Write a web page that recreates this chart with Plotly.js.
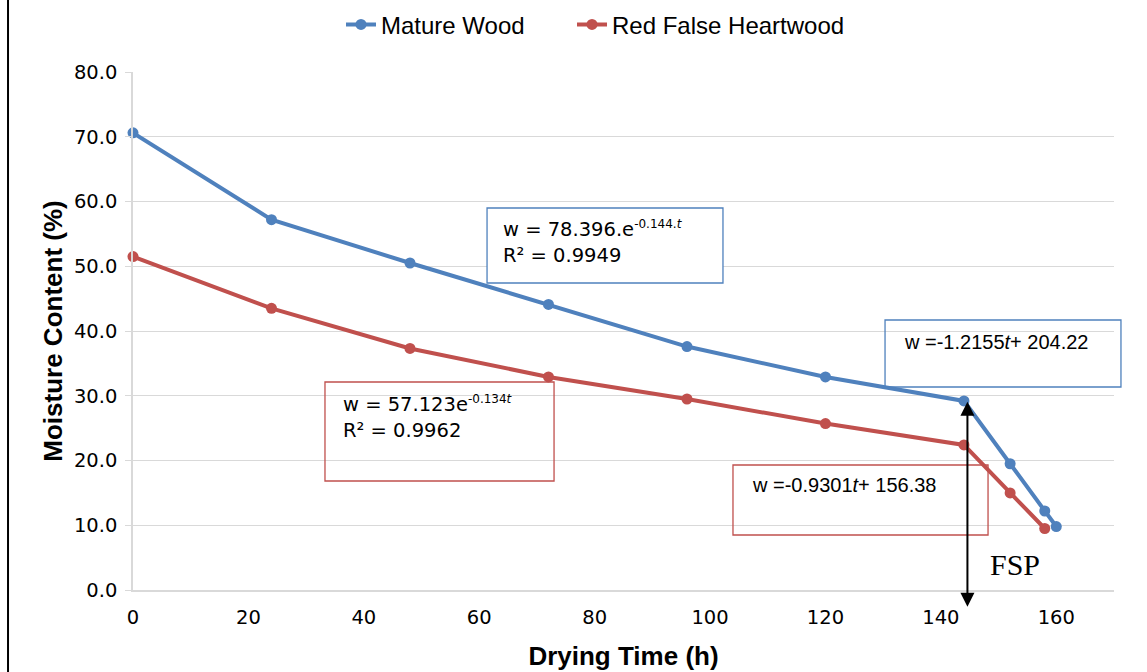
<!DOCTYPE html>
<html>
<head>
<meta charset="utf-8">
<script src="https://cdn.plot.ly/plotly-3.0.1.min.js"></script>
<style>html,body{margin:0;padding:0;background:#fff;}#chart{width:1147px;height:672px;}</style>
</head>
<body>
<div id="chart"></div>
<script>
// Data
var dryingTimeMature = [0, 24, 48, 72, 96, 120, 144, 152, 158, 160];
var moistureMature   = [70.6, 57.2, 50.5, 44.1, 37.6, 32.9, 29.2, 19.5, 12.2, 9.8];
var dryingTimeRed    = [0, 24, 48, 72, 96, 120, 144, 152, 158];
var moistureRed      = [51.5, 43.5, 37.3, 32.9, 29.5, 25.7, 22.4, 15.0, 9.5];
var seriesNames = ["Mature Wood", "Red False Heartwood"];
var eqMature1 = "w = 78.396.e<sup><span style=\"font-size:12px\">-0.144.<i>t</i></span></sup><br>R² = 0.9949";
var eqRed1    = "w = 57.123e<sup><span style=\"font-size:12px\">-0.134<i>t</i></span></sup><br>R² = 0.9962";
var eqMature2 = "w =-1.2155<i>t</i>+ 204.22";
var eqRed2    = "w =-0.9301<i>t</i>+ 156.38";
var fspTime = 144.6, fspTop = 29.3, fspBottom = -2.6;

var blue = "#4F81BD", red = "#C0504D";
var font = "Liberation Sans, Arial, sans-serif";
var wide = "DejaVu Sans, sans-serif";

var traces = [
  {x: dryingTimeMature, y: moistureMature, name: seriesNames[0], type: "scatter", mode: "lines+markers",
   line: {color: blue, width: 4}, marker: {color: blue, size: 11}, cliponaxis: false, legend: "legend"},
  {x: dryingTimeRed, y: moistureRed, name: seriesNames[1], type: "scatter", mode: "lines+markers",
   line: {color: red, width: 4}, marker: {color: red, size: 11}, cliponaxis: false, legend: "legend2"}
];

function box(x0, x1, y0, y1, color, fill, layer) {
  return {type: "rect", xref: "paper", yref: "paper", x0: x0, x1: x1, y0: y0, y1: y1,
          line: {color: color, width: 1.3}, fillcolor: fill, layer: layer};
}
function txt(x, y, t, fam, size) {
  return {xref: "paper", yref: "paper", x: x, y: y, xanchor: "left", yanchor: "top", align: "left",
          text: t, showarrow: false, font: {family: fam, size: size, color: "#000"}};
}
function leg(x) {
  return {orientation: "h", xref: "container", yref: "container", x: x, xanchor: "left", y: 0.963, yanchor: "middle",
          font: {family: font, size: 24, color: "#000"}, bgcolor: "rgba(0,0,0,0)"};
}

var layout = {
  width: 1147, height: 672,
  margin: {l: 133, r: 33, t: 72, b: 82, autoexpand: false},
  paper_bgcolor: "#fff", plot_bgcolor: "#fff",
  font: {family: font, color: "#000"},
  showlegend: true,
  legend: leg(0.2973),
  legend2: leg(0.4987),
  xaxis: {range: [0, 170], dtick: 20, tick0: 0, showgrid: false, zeroline: false, automargin: false,
          showline: true, linecolor: "#D9D9D9", linewidth: 1.5, ticks: "",
          ticklabelstandoff: 9, tickfont: {family: wide, size: 19.5, color: "#000"},
          title: {text: "<b>Drying Time (h)</b>", font: {family: font, size: 26, color: "#000"}, standoff: 19}},
  yaxis: {range: [0, 80], dtick: 10, tick0: 0, tickformat: ".1f", showgrid: true, gridcolor: "#D9D9D9", gridwidth: 1.3,
          zeroline: false, showline: true, linecolor: "#D9D9D9", linewidth: 1.5, automargin: false,
          ticks: "outside", ticklen: 6, tickcolor: "#D9D9D9", ticklabelstandoff: 4,
          tickfont: {family: wide, size: 19.5, color: "#000"},
          title: {text: "<b>Moisture Content (%)</b>", font: {family: font, size: 26, color: "#000"}, standoff: 4}},
  shapes: [
    box(0.3609, 0.6014, 0.7375, 0.5927, blue, "#fff", "above"),
    box(0.1957, 0.4292, 0.4015, 0.2104, red, "rgba(0,0,0,0)", "above"),
    box(0.7666, 1.0071, 0.5212, 0.3919, blue, "rgba(0,0,0,0)", "above"),
    box(0.6116, 0.8716, 0.2413, 0.1062, red, "rgba(0,0,0,0)", "above"),
    {type: "line", xref: "paper", yref: "paper", x0: -0.1274, x1: -0.1274, y0: -0.2, y1: 1.2,
     line: {color: "#000", width: 2}}
  ],
  annotations: [
    txt(0.3751, 0.7239, eqMature1, wide, 19.5),
    txt(0.2120, 0.3861, eqRed1, wide, 19.5),
    txt(0.7839, 0.5039, eqMature2, font, 20),
    txt(0.6290, 0.2278, eqRed2, font, 20),
    {xref: "x", yref: "y", x: fspTime, y: fspBottom, axref: "x", ayref: "y", ax: fspTime, ay: fspTop,
     text: "", showarrow: true, arrowside: "end+start", arrowhead: 2, startarrowhead: 2,
     arrowsize: 1.4, startarrowsize: 1.4, arrowwidth: 2, arrowcolor: "#000", standoff: 0, startstandoff: 0},
    {xref: "paper", yref: "paper", x: 0.8991, y: 0.0483, xanchor: "center", yanchor: "middle",
     text: "FSP", showarrow: false, font: {family: "Liberation Serif, Times New Roman, serif", size: 30, color: "#000"}}
  ]
};

Plotly.newPlot("chart", traces, layout, {displayModeBar: false, responsive: false});
</script>
</body>
</html>
